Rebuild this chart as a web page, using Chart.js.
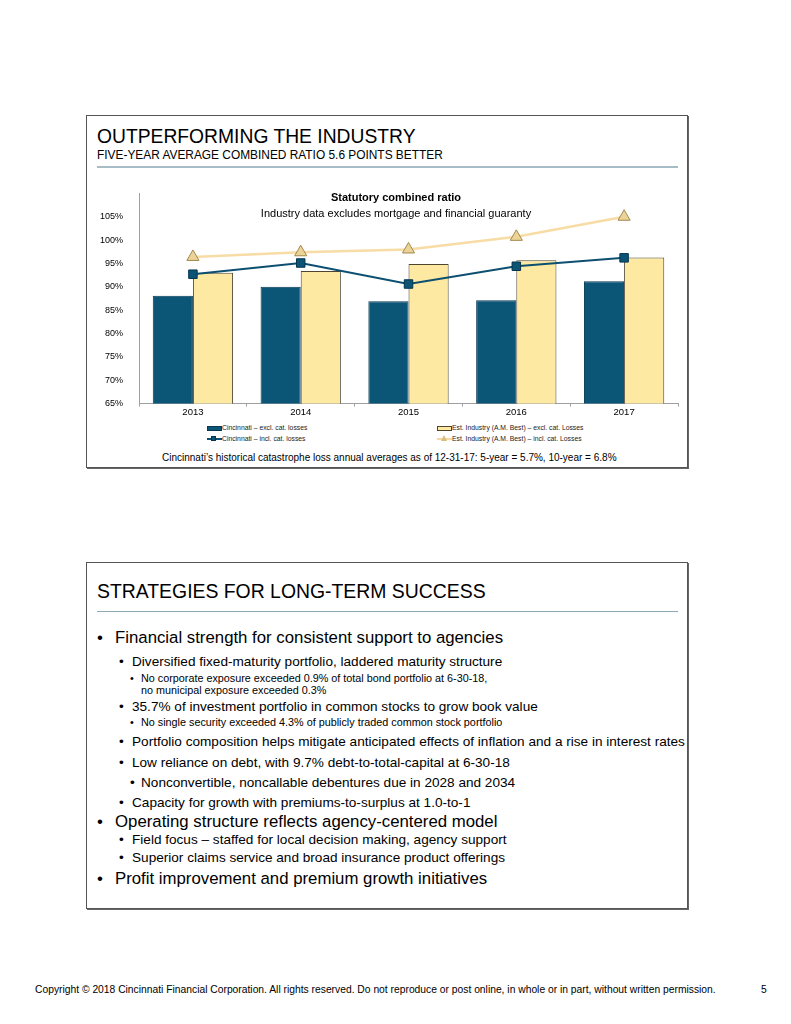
<!DOCTYPE html>
<html>
<head>
<meta charset="utf-8">
<script src="https://cdn.jsdelivr.net/npm/chart.js@4"></script>
<style>
  body { margin: 0; background: #fff; font-family: "Liberation Sans", Arial, sans-serif; color: #000; }
  #page { position: relative; width: 791px; height: 1024px; overflow: hidden; }
  .panel { position: absolute; left: 86px; width: 600px; border: 1px solid #555; box-shadow: 1px 1px 0 #666; background: #fff; }
  .t { position: absolute; white-space: nowrap; line-height: 1; }
  .rule { position: absolute; left: 97px; width: 581px; height: 2px; background: #a7bcc6; }
  .ln { position: absolute; left: 0; width: 791px; line-height: 1; white-space: nowrap; }
  .ln span { position: absolute; }
  .b1 { font-size: 16.8px; }
  .b2 { font-size: 13.6px; }
  .b3 { font-size: 10.8px; }
  .leg { position: absolute; font-size: 6.8px; line-height: 1; white-space: nowrap; color: #222; }
  .ico { position: absolute; }
  canvas { position: absolute; left: 92px; top: 180px; }
</style>
</head>
<body>
<div id="page">
  <div class="panel" style="top:115px;height:351px"></div>
  <div class="panel" style="top:562px;height:345px"></div>

  <div class="t" style="left:97px;top:127px;font-size:19.3px">OUTPERFORMING THE INDUSTRY</div>
  <div class="t" style="left:97px;top:150px;font-size:11.9px">FIVE-YEAR AVERAGE COMBINED RATIO 5.6 POINTS BETTER</div>
  <div class="rule" style="top:166px"></div>

  <canvas id="chart" width="598" height="238"></canvas>

  <div class="t" style="left:0;width:792px;text-align:center;top:192px;font-size:11px;font-weight:bold">Statutory combined ratio</div>
  <div class="t" style="left:0;width:792px;text-align:center;top:208px;font-size:11px">Industry data excludes mortgage and financial guaranty</div>

  <!-- legend -->
  <div class="ico" style="left:207px;top:426px;width:13px;height:3px;background:#0b5577;border:1px solid #063a53"></div>
  <div class="leg" id="leg0" style="left:222px;top:425px"></div>
  <div class="ico" style="left:437px;top:426px;width:13px;height:3px;background:#fde9a2;border:1px solid #4d4530"></div>
  <div class="leg" id="leg1" style="left:452px;top:425px"></div>
  <div class="ico" style="left:207px;top:438px;width:15px;height:2px;background:#0d4f70"></div>
  <div class="ico" style="left:211px;top:436px;width:5px;height:5px;background:#0b5476;border:1px solid #06344c;box-sizing:border-box"></div>
  <div class="leg" id="leg2" style="left:222px;top:436px"></div>
  <div class="ico" style="left:437px;top:438px;width:15px;height:2px;background:#f5d9a0"></div>
  <div class="ico" style="left:441px;top:435px;width:0;height:0;border-left:3px solid transparent;border-right:3px solid transparent;border-bottom:6px solid #d9bd7e"></div>
  <div class="leg" id="leg3" style="left:452px;top:436px"></div>

  <div class="t" style="left:162px;top:453px;font-size:10px">Cincinnati’s historical catastrophe loss annual averages as of 12-31-17: 5-year = 5.7%, 10-year = 6.8%</div>

  <div class="t" style="left:97px;top:582px;font-size:19.4px">STRATEGIES FOR LONG-TERM SUCCESS</div>
  <div class="rule" style="top:611px;height:1px;background:#8fa9b6"></div>

  <div class="ln b1" style="top:630px"><span style="left:97px">•</span><span style="left:115px">Financial strength for consistent support to agencies</span></div>
  <div class="ln b2" style="top:655px"><span style="left:119px">•</span><span style="left:132px">Diversified fixed-maturity portfolio, laddered maturity structure</span></div>
  <div class="ln b3" style="top:673px"><span style="left:130px">•</span><span style="left:141px">No corporate exposure exceeded 0.9% of total bond portfolio at 6-30-18,</span></div>
  <div class="ln b3" style="top:685px"><span style="left:141px">no municipal exposure exceeded 0.3%</span></div>
  <div class="ln b2" style="top:700px"><span style="left:119px">•</span><span style="left:132px">35.7% of investment portfolio in common stocks to grow book value</span></div>
  <div class="ln b3" style="top:717px"><span style="left:130px">•</span><span style="left:141px">No single security exceeded 4.3% of publicly traded common stock portfolio</span></div>
  <div class="ln b2" style="top:735px"><span style="left:119px">•</span><span style="left:132px">Portfolio composition helps mitigate anticipated effects of inflation and a rise in interest rates</span></div>
  <div class="ln b2" style="top:756px"><span style="left:119px">•</span><span style="left:132px">Low reliance on debt, with 9.7% debt-to-total-capital at 6-30-18</span></div>
  <div class="ln b2" style="top:776px"><span style="left:130px">•</span><span style="left:141px">Nonconvertible, noncallable debentures due in 2028 and 2034</span></div>
  <div class="ln b2" style="top:796px"><span style="left:119px">•</span><span style="left:132px">Capacity for growth with premiums-to-surplus at 1.0-to-1</span></div>
  <div class="ln b1" style="top:814px"><span style="left:97px">•</span><span style="left:115px">Operating structure reflects agency-centered model</span></div>
  <div class="ln b2" style="top:833px"><span style="left:119px">•</span><span style="left:132px">Field focus – staffed for local decision making, agency support</span></div>
  <div class="ln b2" style="top:851px"><span style="left:119px">•</span><span style="left:132px">Superior claims service and broad insurance product offerings</span></div>
  <div class="ln b1" style="top:871px"><span style="left:97px">•</span><span style="left:115px">Profit improvement and premium growth initiatives</span></div>

  <div class="t" style="left:35px;top:985px;font-size:10.3px">Copyright © 2018 Cincinnati Financial Corporation. All rights reserved. Do not reproduce or post online, in whole or in part, without written permission.</div>
  <div class="t" style="left:761px;top:985px;font-size:10.3px">5</div>
</div>

<script>
// values (combined ratio, %)
const years = ['2013', '2014', '2015', '2016', '2017'];
const cinExcl = [88.1, 90.0, 86.9, 87.1, 91.2];
const indExcl = [93.0, 93.4, 94.9, 95.7, 96.3];
const cinIncl = [92.7, 95.1, 90.6, 94.4, 96.2];
const indIncl = [96.4, 97.4, 98.0, 100.7, 105.0];
const seriesNames = [
  'Cincinnati – excl. cat. losses',
  'Est. Industry (A.M. Best) – excl. cat. Losses',
  'Cincinnati – incl. cat. losses',
  'Est. Industry (A.M. Best) – incl. cat. Losses'
];
const yMin = 65, yMax = 110, yStep = 5;

seriesNames.forEach((name, i) => {
  document.getElementById('leg' + i).textContent = name;
});

const font = '"Liberation Sans", Arial, sans-serif';

const config = {
  type: 'bar',
  data: {
    labels: years,
    datasets: [
      {
        label: seriesNames[0],
        data: cinExcl,
        backgroundColor: '#0b5577',
        borderColor: '#063a53',
        borderWidth: 1,
        order: 3
      },
      {
        label: seriesNames[1],
        data: indExcl,
        backgroundColor: '#fde9a2',
        borderColor: '#4d4530',
        borderWidth: 1,
        order: 3
      },
      {
        type: 'line',
        label: seriesNames[2],
        data: cinIncl,
        borderColor: '#0d4f70',
        borderWidth: 2,
        pointStyle: 'rect',
        pointRadius: 6,
        pointBackgroundColor: '#0b5476',
        pointBorderColor: '#06344c',
        pointBorderWidth: 1,
        order: 2
      },
      {
        type: 'line',
        label: seriesNames[3],
        data: indIncl,
        borderColor: '#f7dca5',
        borderWidth: 2.5,
        pointStyle: 'triangle',
        pointRadius: 7,
        pointBackgroundColor: '#ecd498',
        pointBorderColor: '#a3884c',
        pointBorderWidth: 1,
        order: 1
      }
    ]
  },
  options: {
    responsive: false,
    animation: false,
    layout: { padding: { left: 0, right: 12, top: 0, bottom: 0 } },
    datasets: {
      bar: { categoryPercentage: 0.745, barPercentage: 1 }
    },
    plugins: {
      legend: { display: false },
      tooltip: { enabled: false }
    },
    scales: {
      x: {
        offset: true,
        grid: { display: true, offset: true, drawOnChartArea: false, drawTicks: true, tickLength: 3, color: '#a0a0a0' },
        border: { display: true, color: '#a0a0a0' },
        ticks: { color: '#000', padding: 0, font: { family: font, size: 9.5 } }
      },
      y: {
        min: yMin,
        max: yMax,
        grid: { display: false },
        border: { display: true, color: '#a0a0a0' },
        ticks: {
          stepSize: yStep,
          padding: 8,
          color: '#000',
          font: { family: font, size: 9 },
          callback: v => v >= yMax ? '' : v + '%'
        }
      }
    }
  }
};

const chart = new Chart(document.getElementById('chart'), config);
</script>
</body>
</html>
